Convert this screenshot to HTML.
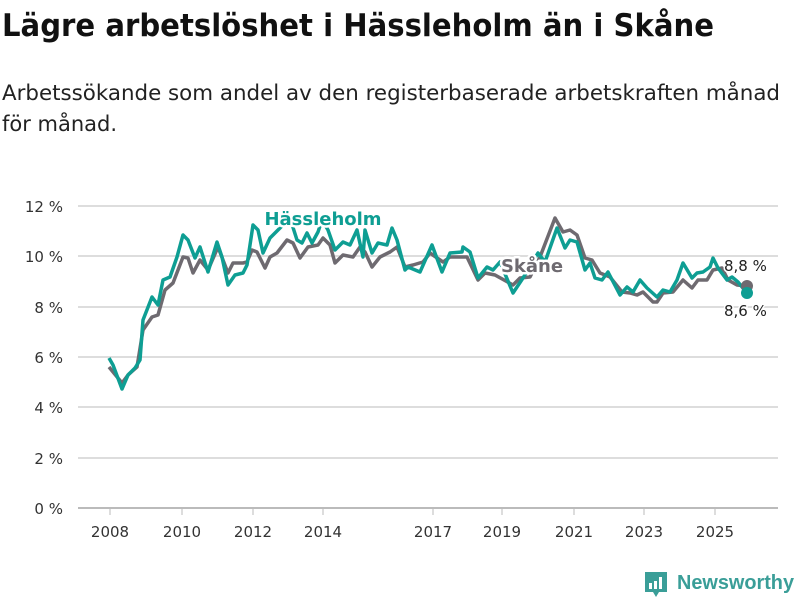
<!DOCTYPE html>
<html><head><meta charset="utf-8"><style>
body{margin:0;background:#fff;width:800px;height:600px;overflow:hidden;font-family:"Liberation Sans","DejaVu Sans",sans-serif}
</style></head><body>
<svg width="800" height="600" xmlns="http://www.w3.org/2000/svg" style="position:absolute;left:0;top:0">
<text x="2" y="36" font-size="31" font-weight="bold" fill="#111" font-family="DejaVu Sans, sans-serif" textLength="712" lengthAdjust="spacingAndGlyphs">Lägre arbetslöshet i Hässleholm än i Skåne</text>
<text x="2" y="100" font-size="21" fill="#222" font-family="DejaVu Sans, sans-serif" textLength="778" lengthAdjust="spacingAndGlyphs">Arbetssökande som andel av den registerbaserade arbetskraften månad</text>
<text x="2" y="131" font-size="21" fill="#222" font-family="DejaVu Sans, sans-serif">för månad.</text>
<g stroke="#ddd" stroke-width="2">
<line x1="78" x2="778" y1="206" y2="206"/><line x1="78" x2="778" y1="256" y2="256"/><line x1="78" x2="778" y1="307" y2="307"/><line x1="78" x2="778" y1="357" y2="357"/><line x1="78" x2="778" y1="407" y2="407"/><line x1="78" x2="778" y1="458" y2="458"/>
</g>
<line x1="78" x2="778" y1="508" y2="508" stroke="#bbb" stroke-width="2"/>
<g font-size="15" fill="#333" text-anchor="end" font-family="DejaVu Sans, sans-serif">
<text x="63" y="212">12 %</text><text x="63" y="262">10 %</text><text x="63" y="313">8 %</text><text x="63" y="363">6 %</text><text x="63" y="413">4 %</text><text x="63" y="464">2 %</text><text x="63" y="514">0 %</text>
</g>
<g stroke="#bbb" stroke-width="1"><line x1="110" x2="110" y1="508" y2="515"/><line x1="182" x2="182" y1="508" y2="515"/><line x1="253" x2="253" y1="508" y2="515"/><line x1="323" x2="323" y1="508" y2="515"/><line x1="433" x2="433" y1="508" y2="515"/><line x1="502" x2="502" y1="508" y2="515"/><line x1="574" x2="574" y1="508" y2="515"/><line x1="644" x2="644" y1="508" y2="515"/><line x1="715" x2="715" y1="508" y2="515"/></g>
<g font-size="15" fill="#333" text-anchor="middle" font-family="DejaVu Sans, sans-serif">
<text x="110" y="537">2008</text><text x="182" y="537">2010</text><text x="253" y="537">2012</text><text x="323" y="537">2014</text><text x="433" y="537">2017</text><text x="502" y="537">2019</text><text x="574" y="537">2021</text><text x="644" y="537">2023</text><text x="715" y="537">2025</text>
</g>
<polyline fill="none" stroke="#6e6a70" stroke-width="3.5" stroke-linejoin="round" points="109,367 122,383 128,375 137,367 143,330 152,317 158,315 165,290 173,283 183,257 188,258 193,273 200,260 208,270 218,247 228,273 233,263 243,263 247,262 252,250 257,252 265,268 270,257 277,253 287,240 293,243 300,258 308,247 318,245 323,238 330,245 335,263 343,255 353,257 360,247 365,252 372,267 380,257 390,252 397,247 405,267 413,265 423,262 430,253 443,262 450,257 467,257 478,280 485,273 495,275 513,285 520,278 530,277 540,257 555,218 563,232 570,230 577,235 585,258 592,260 600,273 610,277 622,292 630,293 637,295 643,292 653,302 657,302 663,293 673,292 683,280 692,288 698,280 707,280 713,270 722,268 728,280 737,285 747,286"/>
<polyline fill="none" stroke="#0e9e93" stroke-width="3.5" stroke-linejoin="round" points="109,358 113,365 122,389 128,375 135,368 140,360 143,320 152,297 158,305 163,280 170,277 177,257 183,235 188,240 195,258 200,247 208,272 217,242 222,257 228,285 235,275 243,273 247,265 253,225 258,230 263,253 270,238 280,228 290,218 297,240 302,243 307,233 312,243 318,232 322,220 328,230 335,250 343,242 350,245 357,230 363,257 365,230 372,253 378,243 387,245 392,228 397,240 405,270 408,267 420,272 432,245 442,272 450,253 462,252 463,247 470,252 478,278 487,267 493,270 500,262 513,293 523,278 538,253 545,262 557,228 565,248 570,240 577,242 585,270 590,263 595,278 602,280 608,272 620,295 627,287 633,292 640,280 647,288 657,297 663,290 670,292 677,280 683,263 692,278 697,273 703,272 710,267 713,258 718,268 727,280 732,277 738,282 747,293"/>
<circle cx="747" cy="286" r="6" fill="#6e6a70"/>
<circle cx="747" cy="293" r="6" fill="#0e9e93"/>
<g font-family="DejaVu Sans, sans-serif" font-weight="bold" font-size="18" stroke="#fff" stroke-width="5" paint-order="stroke" stroke-linejoin="round">
<text x="323" y="225" text-anchor="middle" fill="#0e9e93">Hässleholm</text>
<text x="532" y="272" text-anchor="middle" fill="#6e6a70">Skåne</text>
</g>
<g font-family="DejaVu Sans, sans-serif" font-size="15" fill="#222" stroke="#fff" stroke-width="3" paint-order="stroke">
<text x="724" y="271">8,8 %</text>
<text x="724" y="316">8,6 %</text>
</g>
<g transform="translate(645,572)">
<path d="M0,0 h22 v20 h-8 l-3,5 l-3,-5 h-8 z" fill="#3a9e98"/>
<rect x="4" y="11" width="3" height="6" fill="#fff"/><rect x="9" y="9" width="3" height="8" fill="#fff"/><rect x="14" y="5" width="3" height="12" fill="#fff"/>
</g>
<text x="677" y="589" font-family="Liberation Sans, sans-serif" font-size="20" fill="#3a9e98" font-weight="bold" textLength="117" lengthAdjust="spacingAndGlyphs">Newsworthy</text>
</svg>
</body></html>
